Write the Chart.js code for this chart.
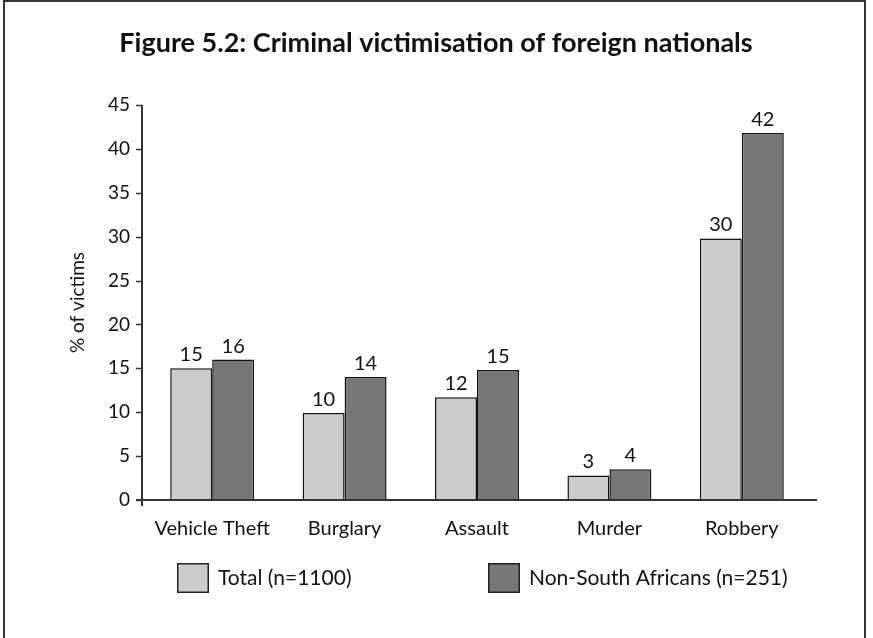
<!DOCTYPE html>
<html><head><meta charset="utf-8">
<script src="https://cdn.jsdelivr.net/npm/chart.js@4.4.0/dist/chart.umd.min.js"></script>
<style>
html,body{margin:0;padding:0;background:#fff;}
#wrap{position:relative;width:873px;height:638px;overflow:hidden;background:#fff;}
#frame{position:absolute;left:3px;top:0px;width:863px;height:700px;border:2px solid #333;box-sizing:border-box;}
canvas{position:absolute;left:0;top:0;}
</style></head><body>
<div id="wrap"><div id="frame"></div><canvas id="c" width="873" height="638"></canvas></div>
<script>
const titleText = 'Figure 5.2: Criminal victimisation of foreign nationals';
const yAxisTitle = '% of victims';
const categories = ['Vehicle Theft', 'Burglary', 'Assault', 'Murder', 'Robbery'];
const seriesNames = ['Total (n=1100)', 'Non-South Africans (n=251)'];
const totalValues = [15, 9.9, 11.7, 2.8, 29.8];
const nonSAValues = [16, 14, 14.8, 3.5, 41.8];
const totalLabels = ['15', '10', '12', '3', '30'];
const nonSALabels = ['16', '14', '15', '4', '42'];
const yTicks = [0, 5, 10, 15, 20, 25, 30, 35, 40, 45];
const seriesColors = ['#cccccc', '#777777'];

const FONT = 'Lato, "Open Sans", sans-serif';

const titlePlugin = {
  id: 'figTitle',
  afterDraw(chart) {
    const ctx = chart.ctx;
    ctx.save();
    ctx.font = 'bold 27px ' + FONT;
    ctx.fillStyle = '#111';
    ctx.textAlign = 'center';
    ctx.textBaseline = 'middle';
    ctx.fillText(titleText, 436, 43);
    ctx.restore();
  }
};

const axesPlugin = {
  id: 'axesLines',
  afterDatasetsDraw(chart) {
    const {ctx, chartArea: a, scales: {y}} = chart;
    const x0 = a.left - 4;
    ctx.save();
    ctx.strokeStyle = '#333';
    ctx.lineWidth = 2;
    ctx.beginPath();
    ctx.moveTo(x0, y.getPixelForValue(yTicks[yTicks.length - 1]));
    ctx.lineTo(x0, a.bottom + 6);
    ctx.stroke();
    ctx.beginPath();
    ctx.moveTo(x0 - 6, a.bottom);
    ctx.lineTo(a.right + 9, a.bottom);
    ctx.stroke();
    ctx.lineWidth = 1.5;
    yTicks.forEach(v => {
      const py = Math.round(y.getPixelForValue(v)) + 0.5;
      ctx.beginPath();
      ctx.moveTo(x0 - 6, py);
      ctx.lineTo(x0, py);
      ctx.stroke();
    });
    ctx.restore();
  }
};

const valueLabelPlugin = {
  id: 'valueLabels',
  afterDatasetsDraw(chart) {
    const ctx = chart.ctx;
    const labelSets = [totalLabels, nonSALabels];
    ctx.save();
    ctx.font = '20px ' + FONT;
    ctx.fillStyle = '#111';
    ctx.textAlign = 'center';
    ctx.textBaseline = 'alphabetic';
    chart.data.datasets.forEach((ds, di) => {
      const meta = chart.getDatasetMeta(di);
      meta.data.forEach((el, i) => {
        ctx.fillText(labelSets[di][i], el.x, el.y - 7);
      });
    });
    ctx.restore();
  }
};

const legendPlugin = {
  id: 'customLegend',
  afterDraw(chart) {
    const ctx = chart.ctx;
    const items = [{x: 177}, {x: 488}];
    ctx.save();
    ctx.font = '21px ' + FONT;
    ctx.textBaseline = 'middle';
    ctx.textAlign = 'left';
    chart.data.datasets.forEach((ds, i) => {
      const bx = items[i].x, by = 563;
      ctx.fillStyle = ds.backgroundColor;
      ctx.fillRect(bx, by, 32, 30);
      ctx.strokeStyle = '#222';
      ctx.lineWidth = 1.5;
      ctx.strokeRect(bx + 0.75, by + 0.75, 30.5, 28.5);
      ctx.fillStyle = '#111';
      ctx.fillText(ds.label, bx + 41, by + 15);
    });
    ctx.restore();
  }
};

new Chart(document.getElementById('c'), {
  type: 'bar',
  data: {
    labels: categories,
    datasets: [
      {label: seriesNames[0], data: totalValues, backgroundColor: seriesColors[0], borderColor: '#111', borderWidth: 1.5},
      {label: seriesNames[1], data: nonSAValues, backgroundColor: seriesColors[1], borderColor: '#111', borderWidth: 1.5}
    ]
  },
  options: {
    responsive: false,
    animation: false,
    devicePixelRatio: 1,
    events: [],
    categoryPercentage: 0.634,
    barPercentage: 1.0,
    layout: {padding: {top: 105, bottom: 98, left: 0, right: 65}},
    plugins: {legend: {display: false}, title: {display: false}, tooltip: {enabled: false}},
    scales: {
      x: {
        grid: {display: false, drawTicks: false},
        border: {display: false},
        ticks: {font: {family: FONT, size: 20}, color: '#111', padding: 17},
        afterFit(scale) { scale.height = 40; }
      },
      y: {
        min: 0, max: 45,
        grid: {display: false, drawTicks: false},
        border: {display: false},
        ticks: {stepSize: 5, font: {family: FONT, size: 19}, color: '#111', padding: 16},
        title: {display: true, text: yAxisTitle, font: {family: FONT, size: 19}, color: '#111', padding: {top: 66, bottom: 0}},
        afterFit(scale) { scale.width = 146; }
      }
    }
  },
  plugins: [axesPlugin, valueLabelPlugin, legendPlugin, titlePlugin]
});
</script>
</body></html>
